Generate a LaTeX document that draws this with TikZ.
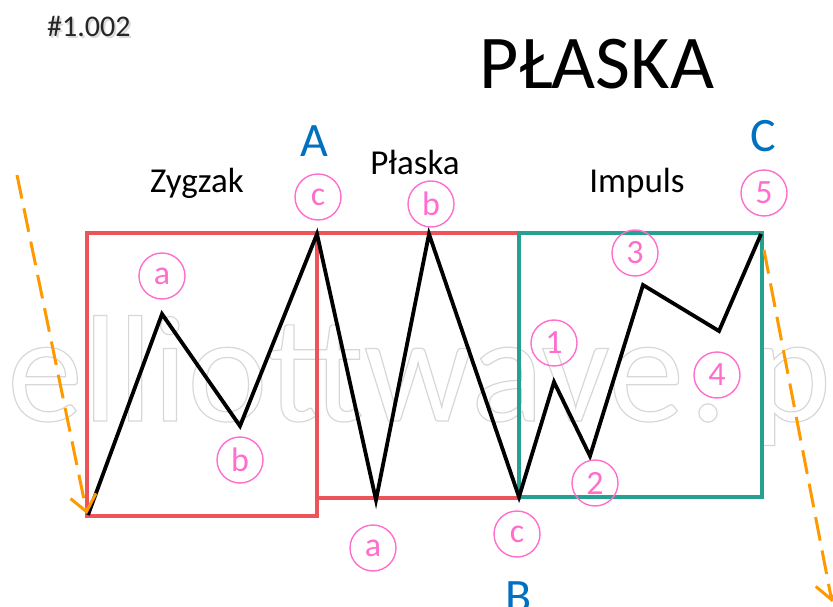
\documentclass[tikz,border=0pt]{standalone}
\usepackage{fontspec}
\setmainfont{Carlito}
\usetikzlibrary{arrows.meta}
\definecolor{boxred}{RGB}{236,84,90}
\definecolor{boxteal}{RGB}{38,160,145}
\definecolor{wavepink}{RGB}{255,110,205}
\definecolor{lblblue}{RGB}{0,112,192}
\definecolor{arrorange}{RGB}{255,153,0}
\definecolor{wmgray}{RGB}{215,215,215}
\begin{document}
\begin{tikzpicture}[x=1pt,y=-1pt,
  redbox/.style={draw=boxred,line width=3.2pt},
  tealbox/.style={draw=boxteal,line width=3.2pt},
  wave/.style={draw=black,line width=3.8pt,line join=miter},
  lbl/.style={circle,draw=wavepink,line width=1.4pt,minimum size=46pt,inner sep=0pt,text=wavepink,font=\fontsize{34}{34}\selectfont},
  pt/.style={lblblue,font=\fontsize{48}{48}\selectfont,anchor=base},
  ttl/.style={font=\fontsize{35}{35}\selectfont,anchor=base},
  trend/.style={draw=arrorange,line width=3pt,dash pattern=on 24pt off 10pt,-{Straight Barb[length=16pt,width=26pt,line width=3pt]}}
]
\useasboundingbox (0,0) rectangle (833,607);
% watermark
\node[anchor=base west,inner sep=0pt,text=wmgray,font=\fontsize{152}{152}\selectfont] (wm) at (7,421)
  {\special{pdf:literal direct 1 Tr 1.2 w}elliottwave\kern5pt.\kern24pt pl\special{pdf:literal direct 0 Tr}};
% header
\node[anchor=base west,inner sep=0pt,text=black!25,opacity=0.6,font=\fontsize{30}{30}\selectfont] (hdrs) at (49,39) {\#1.002};
\node[anchor=base west,inner sep=0pt,text=black!85,font=\fontsize{30}{30}\selectfont] (hdr) at (47,37) {\#1.002};
\node[anchor=base,inner sep=0pt,font=\fontsize{76}{76}\selectfont] (title) at (597,89) {PŁASKA};
% wave points
\coordinate (p0) at (88,515);
\coordinate (p1) at (162,314);
\coordinate (p2) at (240,426);
\coordinate (p3) at (317,234);
\coordinate (p4) at (376,500);
\coordinate (p5) at (429,234);
\coordinate (p6) at (519,497);
\coordinate (p7) at (554,382);
\coordinate (p8) at (590,456);
\coordinate (p9) at (643,285);
\coordinate (p10) at (719,331);
\coordinate (p11) at (761,234);
% boxes
\draw[redbox] (87,233) rectangle (317,516);
\draw[redbox] (317,233) -- (519,233) -- (519,498) -- (317,498);
\draw[tealbox] (519,233) rectangle (762,497);
% wave
\draw[wave] (p0) -- (p1) -- (p2) -- (p3) -- (p4) -- (p5) -- (p6) -- (p7) -- (p8) -- (p9) -- (p10) -- (p11);
% trend arrows
\coordinate (l0) at (17,175);
\coordinate (l1) at (87,514);
\coordinate (r0) at (764,250);
\coordinate (r1) at (832,602);
\draw[trend] (l0) -- (l1);
\draw[trend] (r0) -- (r1);
% group titles
\node[ttl] (zyg) at (197,193) {Zygzak};
\node[ttl] (pla) at (415,175) {Płaska};
\node[ttl] (imp) at (637,193) {Impuls};
% A B C
\node[pt] (A) at (314,157) {A};
\node[pt] (B) at (519,612) {B};
\node[pt] (C) at (763,152) {C};
% circle labels
\node[lbl] (za) at (162,276) {a};
\node[lbl] (zb) at (240,460) {b};
\node[lbl] (zc) at (318,197) {c};
\node[lbl] (pa) at (373,548) {a};
\node[lbl] (pb) at (431,204) {b};
\node[lbl] (pc) at (517,534) {c};
\node[lbl] (i1) at (554,343) {1};
\node[lbl] (i2) at (595,483) {2};
\node[lbl] (i3) at (635,253) {3};
\node[lbl] (i4) at (717,375) {4};
\node[lbl] (i5) at (764,193) {5};
\end{tikzpicture}
\end{document}
